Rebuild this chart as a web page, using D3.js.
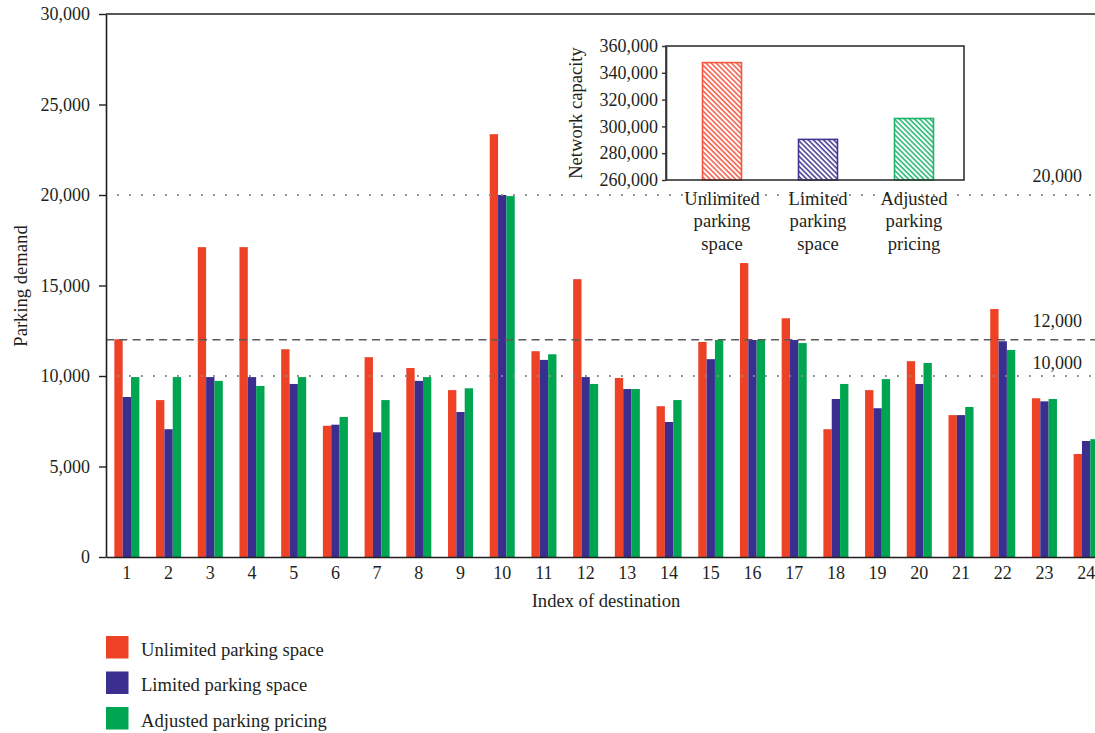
<!DOCTYPE html>
<html>
<head>
<meta charset="utf-8">
<script src="https://cdn.jsdelivr.net/npm/d3@7"></script>
<style>
  html, body { margin: 0; padding: 0; background: #fff; }
  svg { display: block; font-family: "Liberation Serif", "DejaVu Serif", serif; }
</style>
</head>
<body>
<svg id="chart" width="1095" height="733"></svg>
<script>
// Destinations along the x axis
const destinations = [1, 2, 3, 4, 5, 6, 7, 8, 9, 10, 11, 12, 13, 14, 15, 16, 17, 18, 19, 20, 21, 22, 23, 24];

// Parking demand per destination under each scenario
const unlimitedDemand = [12030, 8670, 17120, 17120, 11480, 7250, 11040, 10440, 9220, 23360, 11370, 15350,
                         9890, 8330, 11880, 16240, 13190, 7060, 9220, 10820, 7840, 13700, 8770, 5690];
const limitedDemand   = [8840, 7060, 9940, 9940, 9560, 7310, 6890, 9730, 8010, 20000, 10890, 9940,
                         9280, 7460, 10930, 11990, 11990, 8730, 8220, 9560, 7840, 11920, 8600, 6410];
const adjustedDemand  = [9940, 9940, 9730, 9450, 9940, 7740, 8670, 9940, 9320, 19940, 11200, 9560,
                         9280, 8670, 11990, 11990, 11820, 9560, 9830, 10720, 8290, 11440, 8730, 6510];

const demandTicks = [0, 5000, 10000, 15000, 20000, 25000, 30000];
const dottedLevels = [20000, 10000];
const dashedLevels = [12000];
const levelLabels = [20000, 12000, 10000];

// Scenario names, colours and total network capacity (inset)
const scenarios = ["Unlimited parking space", "Limited parking space", "Adjusted parking pricing"];
const scenarioLines = [["Unlimited", "parking", "space"], ["Limited", "parking", "space"], ["Adjusted", "parking", "pricing"]];
const scenarioColors = ["#ee4227", "#3a2f8e", "#00a551"];
const hatchColors = ["#f4553e", "#3d3592", "#1db46a"];
const networkCapacity = [347600, 290300, 305900];
const capacityTicks = [260000, 280000, 300000, 320000, 340000, 360000];

const svg = d3.select("#chart");
const fmt = d3.format(",");
const axisColor = "#231f20";
const textColor = "#231f20";
const tickFont = 18;
const labelFont = 18.6;

// ---------- main chart ----------
const plot = { left: 106, right: 1107, top: 14, bottom: 557 };

const x = d3.scaleBand()
  .domain(destinations)
  .range([plot.left, plot.right])
  .paddingInner(0.4)
  .paddingOuter(0.2);

const xSub = d3.scaleBand()
  .domain(d3.range(scenarios.length))
  .range([0, x.bandwidth()]);

const y = d3.scaleLinear().domain([0, 30000]).range([plot.bottom, plot.top]);

const seriesValues = [unlimitedDemand, limitedDemand, adjustedDemand];

// grouped bars
const groups = svg.append("g").selectAll("g")
  .data(destinations)
  .join("g")
  .attr("transform", d => `translate(${x(d)},0)`);

groups.selectAll("rect")
  .data((d, i) => seriesValues.map((vals, s) => ({ s, v: vals[i] })))
  .join("rect")
  .attr("x", d => xSub(d.s))
  .attr("width", xSub.bandwidth())
  .attr("y", d => y(d.v))
  .attr("height", d => y(0) - y(d.v))
  .attr("fill", d => scenarioColors[d.s]);

// reference levels
svg.append("g").selectAll("line")
  .data(dottedLevels)
  .join("line")
  .attr("x1", plot.left).attr("x2", plot.right)
  .attr("y1", d => y(d)).attr("y2", d => y(d))
  .attr("stroke", "#8a8a8a")
  .attr("stroke-width", 1.8)
  .attr("stroke-dasharray", "1.8,10.2")
  .attr("stroke-dashoffset", -11);

svg.append("g").selectAll("line")
  .data(dashedLevels)
  .join("line")
  .attr("x1", plot.left).attr("x2", plot.right)
  .attr("y1", d => y(d)).attr("y2", d => y(d))
  .attr("stroke", "#5a5a5a")
  .attr("stroke-width", 1.5)
  .attr("stroke-dasharray", "8,5.3");

svg.append("g").selectAll("text")
  .data(levelLabels)
  .join("text")
  .attr("x", 1082)
  .attr("y", d => y(d) - (d === 10000 ? 7 : 13))
  .attr("text-anchor", "end")
  .attr("font-size", tickFont)
  .attr("fill", textColor)
  .text(d => fmt(d));

// y axis
const yAxis = svg.append("g")
  .attr("transform", `translate(${plot.left},0)`)
  .call(d3.axisLeft(y).tickValues(demandTicks).tickFormat(fmt).tickSize(7).tickSizeOuter(0).tickPadding(9));
yAxis.select(".domain").attr("stroke", axisColor).attr("stroke-width", 1.6);
yAxis.selectAll(".tick line").attr("stroke", axisColor).attr("stroke-width", 1.4);
yAxis.selectAll("text").attr("font-size", tickFont).attr("fill", textColor).attr("font-family", "Liberation Serif");

// x axis
const xAxis = svg.append("g")
  .attr("transform", `translate(0,${plot.bottom})`)
  .call(d3.axisBottom(x).tickSize(0).tickSizeOuter(0).tickPadding(9));
xAxis.select(".domain").attr("stroke", axisColor).attr("stroke-width", 1.6);
xAxis.selectAll("text").attr("font-size", tickFont).attr("fill", textColor).attr("font-family", "Liberation Serif");

// top frame line
svg.append("line")
  .attr("x1", plot.left).attr("x2", plot.right)
  .attr("y1", plot.top).attr("y2", plot.top)
  .attr("stroke", axisColor).attr("stroke-width", 1.6);

// axis titles
svg.append("text")
  .attr("transform", `translate(27,286) rotate(-90)`)
  .attr("text-anchor", "middle")
  .attr("font-size", labelFont)
  .attr("fill", textColor)
  .text("Parking demand");

svg.append("text")
  .attr("x", 606)
  .attr("y", 607)
  .attr("text-anchor", "middle")
  .attr("font-size", labelFont)
  .attr("fill", textColor)
  .text("Index of destination");

// ---------- inset: network capacity ----------
const inset = { left: 666, right: 964, top: 46, bottom: 180 };

const defs = svg.append("defs");
hatchColors.forEach((c, i) => {
  const p = defs.append("pattern")
    .attr("id", `hatch${i}`)
    .attr("patternUnits", "userSpaceOnUse")
    .attr("width", 3.6).attr("height", 3.6)
    .attr("patternTransform", "rotate(-45)");
  p.append("rect").attr("width", 3.6).attr("height", 3.6).attr("fill", "#fff");
  p.append("line")
    .attr("x1", 1).attr("x2", 1).attr("y1", 0).attr("y2", 3.6)
    .attr("stroke", c).attr("stroke-width", 1.5);
});

const xi = d3.scaleBand()
  .domain(d3.range(scenarios.length))
  .range([674, 962])
  .paddingInner(0.594)
  .paddingOuter(0.297);

const yi = d3.scaleLinear().domain([260000, 360000]).range([inset.bottom, inset.top]);

svg.append("g").selectAll("rect")
  .data(networkCapacity)
  .join("rect")
  .attr("x", (d, i) => xi(i))
  .attr("width", xi.bandwidth())
  .attr("y", d => yi(d))
  .attr("height", d => yi(260000) - yi(d))
  .attr("fill", (d, i) => `url(#hatch${i})`)
  .attr("stroke", (d, i) => hatchColors[i])
  .attr("stroke-width", 1.6);

svg.append("rect")
  .attr("x", inset.left).attr("y", inset.top)
  .attr("width", inset.right - inset.left).attr("height", inset.bottom - inset.top)
  .attr("fill", "none")
  .attr("stroke", "#333").attr("stroke-width", 1.6);

const yiAxis = svg.append("g")
  .attr("transform", `translate(${inset.left},0)`)
  .call(d3.axisLeft(yi).tickValues(capacityTicks).tickFormat(fmt).tickSize(4).tickSizeOuter(0).tickPadding(4));
yiAxis.select(".domain").attr("stroke", "#333").attr("stroke-width", 1.6);
yiAxis.selectAll(".tick line").attr("stroke", "#333").attr("stroke-width", 1.4);
yiAxis.selectAll("text").attr("font-size", tickFont).attr("fill", textColor).attr("font-family", "Liberation Serif");

svg.append("g").selectAll("text")
  .data(scenarioLines)
  .join("text")
  .attr("x", (d, i) => xi(i) + xi.bandwidth() / 2)
  .attr("y", 205)
  .attr("text-anchor", "middle")
  .attr("font-size", labelFont)
  .attr("fill", textColor)
  .selectAll("tspan")
  .data(d => d)
  .join("tspan")
  .attr("x", function () { return d3.select(this.parentNode).attr("x"); })
  .attr("dy", (d, j) => (j === 0 ? 0 : 22.3))
  .text(d => d);

svg.append("text")
  .attr("transform", `translate(582,113) rotate(-90)`)
  .attr("text-anchor", "middle")
  .attr("font-size", labelFont)
  .attr("fill", textColor)
  .text("Network capacity");

// ---------- legend ----------
const legend = svg.append("g").selectAll("g")
  .data(scenarios)
  .join("g")
  .attr("transform", (d, i) => `translate(106,${636 + i * 35.5})`);

legend.append("rect")
  .attr("width", 22.5).attr("height", 22.5)
  .attr("fill", (d, i) => scenarioColors[i]);

legend.append("text")
  .attr("x", 35)
  .attr("y", 19.5)
  .attr("font-size", labelFont)
  .attr("fill", textColor)
  .text(d => d);
</script>
</body>
</html>
